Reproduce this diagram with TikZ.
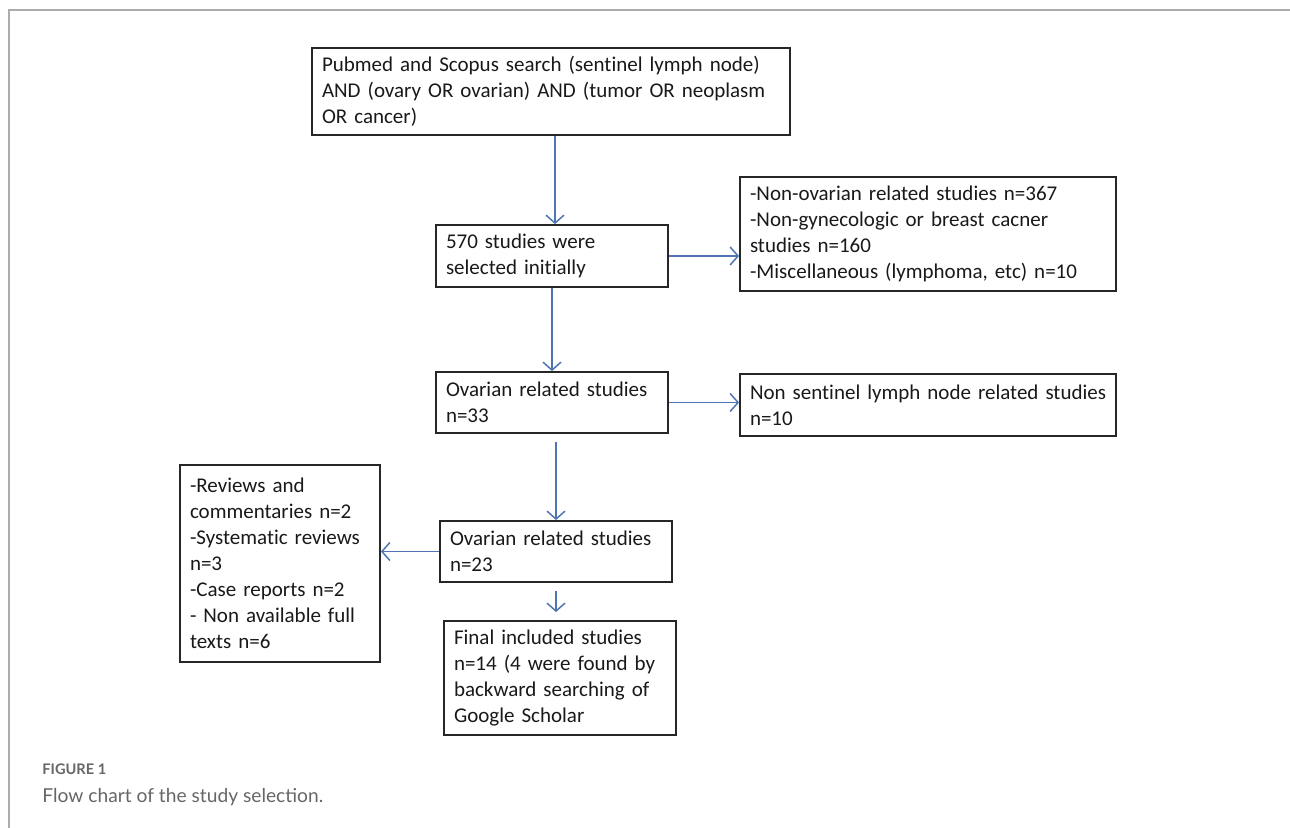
\documentclass[tikz,border=0pt]{standalone}
\usepackage{fontspec}
\setmainfont{Carlito}[Ligatures=NoCommon]
\newfontfamily\capfont{Lato}
\usetikzlibrary{arrows.meta}
\usetikzlibrary{calc}
\definecolor{arrowblue}{RGB}{79,118,176}
\definecolor{framegray}{RGB}{172,172,172}
\definecolor{capgray}{RGB}{102,102,102}
\tikzstyle{box}=[draw=black!85, line width=0.9pt, align=left, inner xsep=5pt, inner ysep=0pt, text=black!90, font=\fontsize{10.5}{13}\selectfont]
\tikzstyle{flow}=[-{Straight Barb[length=4pt,width=9pt]}, arrowblue, line width=0.75pt]
\tikzstyle{caption}=[anchor=base west, inner sep=0pt, text=capgray]

\begin{document}
\begin{tikzpicture}[x=0.5pt, y=-0.5pt]

  \useasboundingbox (0,0) rectangle (1290,828);
  \draw[framegray, line width=1pt] (1290,10) -- (9,10) -- (9,828);

  % main column
  \node[box, text width=229pt, minimum height=43.5pt] (search) at (551,91.5)
    {\mbox{Pubmed and Scopus search (sentinel lymph node)}\\\mbox{AND (ovary OR ovarian) AND (tumor OR neoplasm}\\OR cancer)};
  \node[box, text width=106pt, minimum height=31pt] (sel) at (552,256)
    {570 studies were\\selected initially};
  \node[box, text width=106pt, minimum height=30.5pt] (ovar33) at (552,402.5)
    {Ovarian related studies\\n=33};
  \node[box, text width=106pt, minimum height=30.5pt] (ovar23) at (556,551.5)
    {Ovarian related studies\\n=23};
  \node[box, text width=106pt, minimum height=57pt] (final) at (560,678)
    {Final included studies\\n=14 (4 were found by\\backward searching of\\Google Scholar};

  % excluded
  \node[box, text width=178pt, minimum height=57pt] (excl1) at (928,234)
    {-Non-ovarian related studies n=367\\-Non-gynecologic or breast cacner\\studies n=160\\-Miscellaneous (lymphoma, etc) n=10};
  \node[box, text width=178pt, minimum height=31pt] (excl2) at (928,405)
    {\mbox{Non sentinel lymph node related studies}\\n=10};
  \node[box, text width=90pt, minimum height=98.5pt] (excl3) at (280,563.5)
    {-Reviews and\\commentaries n=2\\-Systematic reviews\\n=3\\-Case reports n=2\\- Non available full\\texts n=6};

  \draw[flow] (search.south -| 555,0) -- (sel.north -| 555,0);
  \draw[flow] (sel.south) -- (ovar33.north);
  \draw[flow, shorten <=4pt] (ovar33.south -| ovar23.north) -- (ovar23.north);
  \draw[flow, shorten <=4pt, shorten >=4pt] (ovar23.south) -- (final.north -| ovar23.south);

  \draw[flow] (sel.east) -- (sel.east -| excl1.west);
  \draw[flow] (ovar33.east) -- (ovar33.east -| excl2.west);
  \draw[flow] (ovar23.west) -- (ovar23.west -| excl3.east);

  \node[caption, font=\capfont\bfseries\fontsize{7.3}{8}\selectfont] (figlabel) at (42,774) {FIGURE 1};
  \node[caption, font=\capfont\fontsize{9.6}{11}\selectfont] (figtext) at (42,802) {Flow chart of the study selection.};

\end{tikzpicture}
\end{document}
